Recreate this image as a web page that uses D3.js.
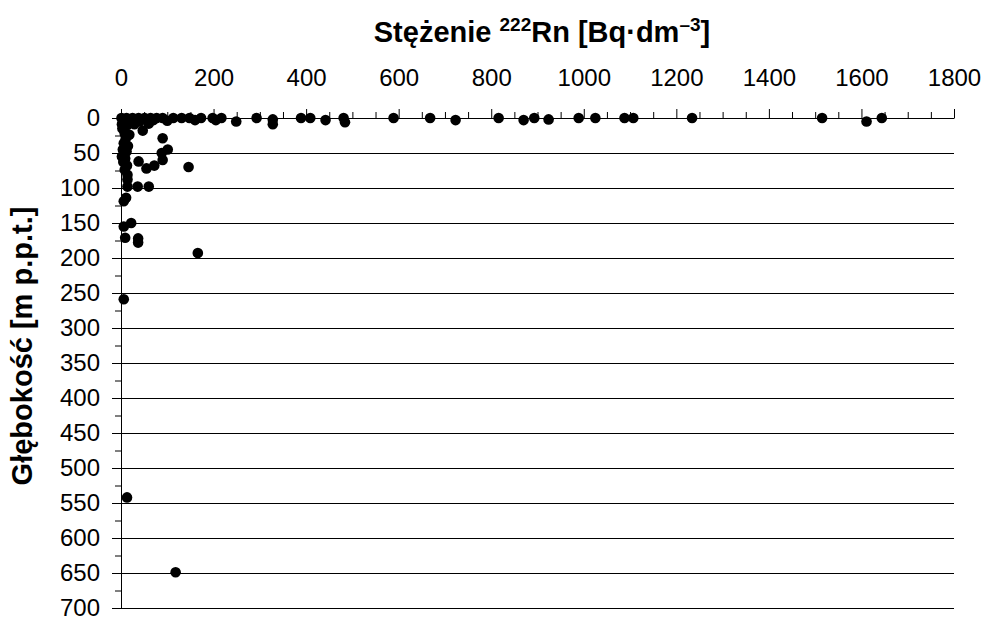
<!DOCTYPE html>
<html>
<head>
<meta charset="utf-8">
<script src="https://cdn.jsdelivr.net/npm/d3@7"></script>
<style>
  html, body { margin: 0; padding: 0; background: #fff; }
  svg { display: block; }
  text { font-family: "Liberation Sans", Arial, sans-serif; fill: #000; }
</style>
</head>
<body>
<script>
// ---- data ----
const concentration = [
  1, 12, 25, 38, 51, 64, 77, 90, 113, 131, 148, 173, 198, 217, 249, 293, 328, 328,
  389, 409, 442, 481, 484, 589, 668, 723, 816, 870, 893, 924, 989, 1025, 1088, 1107,
  1234, 1515, 1611, 1644,
  5, 20, 40, 70, 100, 160, 205,
  2, 14, 29, 60,
  47, 90,
  3, 8, 18, 10, 6, 15, 4, 12, 2, 9, 5, 13, 8, 14, 14,
  101, 88, 90, 72, 55, 38,
  146,
  14, 36, 60,
  11, 6,
  22, 6, 9, 37, 37,
  166,
  6,
  13,
  118
];
const depth = [
  0, 0, 0, 0, 0, 0, 0, 0, 0, 0, 0, 0, 0, 0, 5, 0, 2, 9,
  0, 0, 3, 0, 6, 0, 0, 3, 0, 3, 0, 2, 0, 0, 0, 0,
  0, 0, 5, 0,
  3, 4, 5, 3, 4, 3, 3,
  9, 10, 9, 8,
  18, 29,
  15, 22, 24, 30, 36, 40, 45, 48, 55, 58, 63, 68, 74, 81, 88,
  45, 50, 60, 68, 72, 62,
  70,
  98, 98, 98,
  114, 119,
  150, 155, 171, 172, 178,
  193,
  259,
  542,
  649
];
const xMajorTicks = [0, 200, 400, 600, 800, 1000, 1200, 1400, 1600, 1800];
const yMajorTicks = [0, 50, 100, 150, 200, 250, 300, 350, 400, 450, 500, 550, 600, 650, 700];
const xTitleMain = "Stężenie ";
const xTitleSup1 = "222";
const xTitleMid = "Rn [Bq·dm";
const xTitleSup2 = "–3";
const xTitleEnd = "]";
const yTitle = "Głębokość [m p.p.t.]";

// ---- layout ----
const W = 987, H = 620;
const x = d3.scaleLinear().domain([0, 1800]).range([121, 954]);
const y = d3.scaleLinear().domain([0, 700]).range([118, 608]);
const fmt = d3.format("d");

const svg = d3.select("body").append("svg").attr("width", W).attr("height", H);

// gridlines
svg.append("g")
  .attr("transform", `translate(${x(0)},0)`)
  .call(d3.axisLeft(y).tickValues(yMajorTicks.filter(d => d > 0)).tickSize(-(x(1800) - x(0))).tickFormat(""))
  .call(g => g.select(".domain").remove())
  .call(g => g.selectAll("line").attr("stroke", "#000"));

// y minor ticks
svg.append("g")
  .attr("transform", `translate(${x(0)},0)`)
  .call(d3.axisLeft(y).tickValues(d3.range(25, 700, 50)).tickSize(6).tickFormat(""))
  .call(g => g.select(".domain").remove())
  .call(g => g.selectAll("line").attr("stroke", "#000"));

// y major axis
svg.append("g")
  .attr("transform", `translate(${x(0)},0)`)
  .call(d3.axisLeft(y).tickValues(yMajorTicks).tickFormat(fmt).tickSize(9).tickSizeOuter(0).tickPadding(12))
  .call(g => g.select(".domain").attr("stroke", "#000"))
  .call(g => g.selectAll("line").attr("stroke", "#000"))
  .call(g => g.selectAll("text").style("font-size", "24px").attr("fill", "#000"));

// x minor ticks
svg.append("g")
  .attr("transform", `translate(0,${y(0)})`)
  .call(d3.axisTop(x).tickValues(d3.range(50, 1800, 50).filter(d => d % 200 !== 0)).tickSize(6).tickFormat(""))
  .call(g => g.select(".domain").remove())
  .call(g => g.selectAll("line").attr("stroke", "#000"));

// x major axis (top)
svg.append("g")
  .attr("transform", `translate(0,${y(0)})`)
  .call(d3.axisTop(x).tickValues(xMajorTicks).tickFormat(fmt).tickSize(9).tickSizeOuter(0).tickPadding(23))
  .call(g => g.select(".domain").attr("stroke", "#000"))
  .call(g => g.selectAll("line").attr("stroke", "#000"))
  .call(g => g.selectAll("text").style("font-size", "24px").attr("fill", "#000"));

// points
const pts = concentration.map((c, i) => ({ c, d: depth[i] }));
svg.append("g").selectAll("circle").data(pts).join("circle")
  .attr("cx", p => x(p.c))
  .attr("cy", p => y(p.d))
  .attr("r", 5.3)
  .attr("fill", "#000");

// x title
const t = svg.append("text")
  .attr("x", 542).attr("y", 42)
  .attr("text-anchor", "middle")
  .style("font-size", "29px").style("font-weight", "bold");
t.append("tspan").text(xTitleMain);
t.append("tspan").text(xTitleSup1).style("font-size", "19px").attr("dy", -11);
t.append("tspan").text(xTitleMid).attr("dy", 11);
t.append("tspan").text(xTitleSup2).style("font-size", "19px").attr("dy", -11);
t.append("tspan").text(xTitleEnd).attr("dy", 11);

// y title
svg.append("text")
  .attr("transform", "translate(32,346) rotate(-90)")
  .attr("text-anchor", "middle")
  .style("font-size", "29px").style("font-weight", "bold")
  .text(yTitle);
</script>
</body>
</html>
